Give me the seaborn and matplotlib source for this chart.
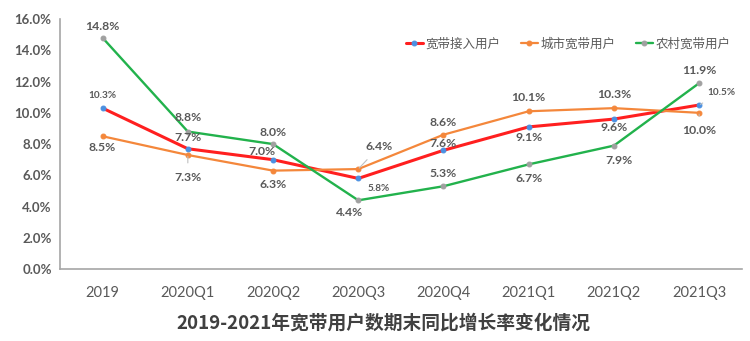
import numpy as np
import pandas as pd
import matplotlib
matplotlib.use("Agg")
import matplotlib.pyplot as plt
import seaborn as sns

categories = ["2019", "2020Q1", "2020Q2", "2020Q3", "2020Q4", "2021Q1", "2021Q2", "2021Q3"]
series_names = ["宽带接入用户", "城市宽带用户", "农村宽带用户"]
total_vals = [10.3, 7.7, 7.0, 5.8, 7.6, 9.1, 9.6, 10.5]
urban_vals = [8.5, 7.3, 6.3, 6.4, 8.6, 10.1, 10.3, 10.0]
rural_vals = [14.8, 8.8, 8.0, 4.4, 5.3, 6.7, 7.9, 11.9]
y_ticks = [0, 2, 4, 6, 8, 10, 12, 14, 16]
title = "2019-2021年宽带用户数期末同比增长率变化情况"

sns.set_theme(style="white")
plt.rcParams['font.family'] = ['Noto Sans CJK SC', 'DejaVu Sans']

df = pd.DataFrame({
    "pos": list(range(len(categories))) * 3,
    "value": total_vals + urban_vals + rural_vals,
    "series": [series_names[0]] * 8 + [series_names[1]] * 8 + [series_names[2]] * 8,
})

fig = plt.figure(figsize=(7.5, 3.41), dpi=100)
ax = fig.add_axes([0.08, 0.211, 0.909, 0.733])

line_colors = ["#FF1F1F", "#F4873B", "#22B24C"]
marker_colors = ["#4A90E2", "#F4873B", "#A0A0A0"]
lws = [2.2, 1.6, 1.7]
for name, lc, mc, lw in zip(series_names, line_colors, marker_colors, lws):
    sub = df[df["series"] == name]
    sns.lineplot(data=sub, x="pos", y="value", ax=ax, color=lc, lw=lw,
                 marker="o", markersize=3.5, markerfacecolor=mc,
                 markeredgecolor=mc, label=name)

num_font = ["Lato", "DejaVu Sans"]
ax.set_xlim(-0.5, 7.5)
ax.set_ylim(0, 16)
ax.set_yticks(y_ticks)
ax.set_yticklabels([f"{v:.1f}%" for v in y_ticks], color="#595959",
                   fontsize=9.5, fontweight="bold", family=num_font)
ax.set_xticks(np.arange(-0.5, 8, 1))
ax.set_xticklabels([])
ax.set_xticks(range(len(categories)), minor=True)
ax.set_xticklabels(categories, minor=True, color="#595959", fontsize=10.5, family=num_font)
ax.tick_params(axis="x", which="minor", length=0, pad=12)
ax.tick_params(axis="x", which="major", length=5, width=1, color="#A6A6A6", direction="out")
ax.tick_params(axis="y", length=4, width=1, color="#A6A6A6", direction="out", pad=2)
ax.set_xlabel("")
ax.set_ylabel("")
for s in ["top", "right"]:
    ax.spines[s].set_visible(False)
for s in ["left", "bottom"]:
    ax.spines[s].set_color("#A6A6A6")
    ax.spines[s].set_linewidth(1.2)

lab_color = "#595959"
def lab(x, y, txt, dx, dy, size=8, leader=False):
    kw = dict(xy=(x, y), xytext=(dx, dy), textcoords="offset points",
              ha="center", va="center", fontsize=size, fontweight="bold",
              color=lab_color, family=num_font)
    if leader:
        kw["arrowprops"] = dict(arrowstyle="-", color="#BFBFBF", lw=0.8, shrinkA=4, shrinkB=1)
    ax.annotate(txt, **kw)

sz = 8.8
sm = 7.2
# total (red)
t_off = [(0, 9, sm, False), (0, 8, sz, False), (-8, 6, sz, False), (15, -7, sm, False),
         (0, 5, sz, False), (0, -8, sz, False), (0, -6, sz, False), (16, 9, sm, True)]
for i, (dx, dy, s_, ld) in enumerate(t_off):
    lab(i, total_vals[i], f"{total_vals[i]}%", dx, dy, s_, ld)
# urban (orange)
u_off = [(0, -8, sz, False), (0, -16, sz, True), (0, -10, sz, False), (15, 16, sz, True),
         (0, 9, sz, False), (0, 10, sz, False), (0, 10, sz, False), (0, -13, sz, True)]
for i, (dx, dy, s_, ld) in enumerate(u_off):
    lab(i, urban_vals[i], f"{urban_vals[i]}%", dx, dy, s_, ld)
# rural (green)
r_off = [(0, 8, sz, False), (0, 10, sz, False), (0, 8, sz, False), (-6, -9, sz, False),
         (0, 9, sz, False), (0, -10, sz, False), (4, -11, sz, False), (0, 9, sz, False)]
for i, (dx, dy, s_, ld) in enumerate(r_off):
    lab(i, rural_vals[i], f"{rural_vals[i]}%", dx, dy, s_, ld)

leg = ax.legend(loc="upper right", bbox_to_anchor=(1.0, 0.97), ncol=3, frameon=False,
                fontsize=9, handlelength=1.4, handletextpad=0.2, columnspacing=1.6,
                labelcolor="#595959")

fig.text(0.511, 0.053, title, ha="center", va="center", fontsize=13.5,
         fontweight="bold", color="#404040")

fig.savefig("out.png", dpi=100)
